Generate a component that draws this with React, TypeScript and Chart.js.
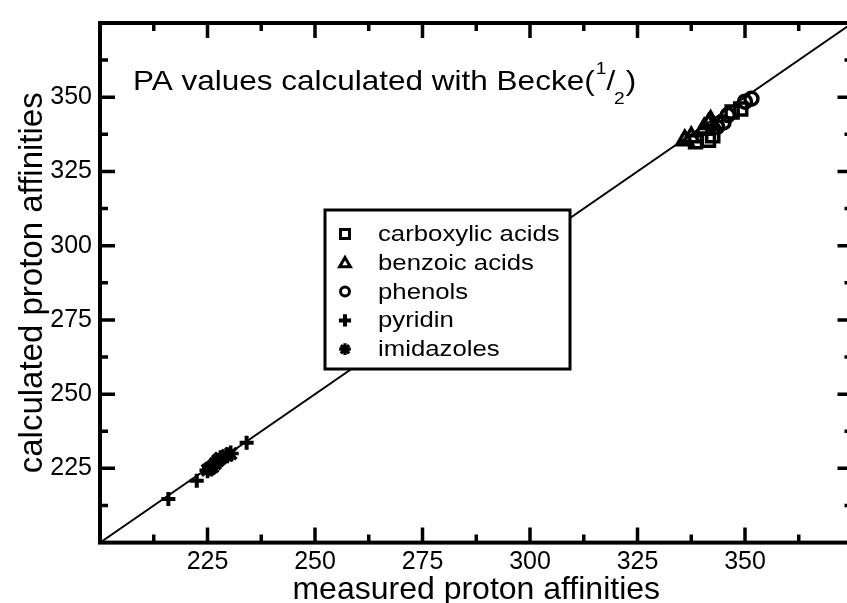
import React, { useEffect, useRef } from 'react';
import { Chart, registerables } from 'chart.js';

Chart.register(...registerables);

const FONT = '"Liberation Sans", Arial, Helvetica, sans-serif';

// axis range and labelled ticks
const axisMin = 200;
const axisMax = 375;
const tickLabels = [225, 250, 275, 300, 325, 350];

// series values (measured, calculated)
const carboxylicX = [338.5, 341.5, 342.5, 347.0, 349.0];
const carboxylicY = [335.0, 335.5, 337.0, 345.0, 346.0];
const benzoicX = [336.0, 337.5, 340.5, 341.5, 342.0];
const benzoicY = [335.5, 336.5, 339.5, 341.0, 342.0];
const phenolsX = [343.5, 345.0, 346.0, 350.0, 351.5];
const phenolsY = [340.0, 341.5, 344.0, 348.5, 349.5];
const pyridinX = [215.9, 222.5, 234.1];
const pyridinY = [214.7, 220.8, 233.6];
const imidazolesX = [225.0, 225.6, 226.2, 226.8, 227.4, 228.0, 229.6, 230.4];
const imidazolesY = [224.4, 225.0, 225.6, 226.6, 227.6, 228.4, 229.4, 230.0];
const diagonalLine = [200, 375];

const seriesNames = ['carboxylic acids', 'benzoic acids', 'phenols', 'pyridin', 'imidazoles'];
const annotationMain = 'PA values calculated with Becke(';
const annotationSup = '1';
const annotationSub = '2';
const xTitle = 'measured proton affinities';
const yTitle = 'calculated proton affinities';

const pts = (xs: number[], ys: number[]) => xs.map((x, i) => ({ x, y: ys[i] }));

function drawMarker(ctx: CanvasRenderingContext2D, kind: string, x: number, y: number, r: number) {
  ctx.beginPath();
  if (kind === 'rect') {
    ctx.lineWidth = 3;
    ctx.rect(x - r, y - r, 2 * r, 2 * r);
    ctx.stroke();
  } else if (kind === 'triangle') {
    ctx.lineWidth = 3;
    ctx.moveTo(x, y - r * 1.2);
    ctx.lineTo(x + r * 1.2, y + r * 0.9);
    ctx.lineTo(x - r * 1.2, y + r * 0.9);
    ctx.closePath();
    ctx.stroke();
  } else if (kind === 'circle') {
    ctx.lineWidth = 3;
    ctx.arc(x, y, r, 0, Math.PI * 2);
    ctx.stroke();
  } else if (kind === 'cross') {
    ctx.lineWidth = 4;
    const a = r * 1.35;
    ctx.moveTo(x - a, y); ctx.lineTo(x + a, y);
    ctx.moveTo(x, y - a); ctx.lineTo(x, y + a);
    ctx.stroke();
  } else {
    ctx.lineWidth = 3.2;
    const a = r * 1.3;
    for (let k = 0; k < 4; k++) {
      const ang = (k * Math.PI) / 4;
      ctx.moveTo(x - a * Math.cos(ang), y - a * Math.sin(ang));
      ctx.lineTo(x + a * Math.cos(ang), y + a * Math.sin(ang));
    }
    ctx.stroke();
  }
}

const framePlugin = {
  id: 'frameTicks',
  afterDraw(chart: any) {
    const { ctx, chartArea } = chart;
    const xs = chart.scales.x;
    const ys = chart.scales.y;
    const { left, right, top, bottom } = chartArea;
    ctx.save();
    ctx.strokeStyle = '#000';
    ctx.fillStyle = '#000';
    // frame
    ctx.lineWidth = 4;
    ctx.strokeRect(left, top, right - left, bottom - top);
    // ticks
    ctx.lineWidth = 3.5;
    ctx.beginPath();
    for (let v = axisMin + 12.5; v < axisMax; v += 12.5) {
      const major = v % 25 === 0;
      const len = major ? 15 : 8;
      const px = xs.getPixelForValue(v);
      ctx.moveTo(px, bottom); ctx.lineTo(px, bottom - len);
      ctx.moveTo(px, top); ctx.lineTo(px, top + len);
      const py = ys.getPixelForValue(v);
      ctx.moveTo(left, py); ctx.lineTo(left + len, py);
      ctx.moveTo(right, py); ctx.lineTo(right - len, py);
    }
    ctx.stroke();

    // annotation text
    const sx = 1.125;
    ctx.save();
    ctx.translate(left + 33, 0);
    ctx.scale(sx, 1);
    ctx.textBaseline = 'alphabetic';
    ctx.textAlign = 'left';
    const base = top + 67;
    let x = 0;
    ctx.font = `28px ${FONT}`;
    ctx.fillText(annotationMain, x, base);
    x += ctx.measureText(annotationMain).width + 1;
    ctx.font = `17px ${FONT}`;
    ctx.fillText(annotationSup, x, base - 16);
    x += ctx.measureText(annotationSup).width;
    ctx.font = `28px ${FONT}`;
    ctx.fillText('/', x, base);
    x += ctx.measureText('/').width - 1;
    ctx.font = `17px ${FONT}`;
    ctx.fillText(annotationSub, x, base + 14);
    x += ctx.measureText(annotationSub).width + 1;
    ctx.font = `28px ${FONT}`;
    ctx.fillText(')', x, base);
    ctx.restore();

    // legend box
    const bx = left + 225;
    const by = top + 187;
    const bw = 245;
    const bh = 159;
    ctx.fillStyle = '#fff';
    ctx.fillRect(bx, by, bw, bh);
    ctx.strokeStyle = '#000';
    ctx.lineWidth = 3;
    ctx.strokeRect(bx, by, bw, bh);
    const kinds = ['rect', 'triangle', 'circle', 'cross', 'star'];
    ctx.fillStyle = '#000';
    for (let i = 0; i < seriesNames.length; i++) {
      const ry = by + 24 + i * 28.8;
      drawMarker(ctx, kinds[i], bx + 20, ry, 4.5);
      ctx.save();
      ctx.translate(bx + 53, ry + 1);
      ctx.scale(1.17, 1);
      ctx.font = `22px ${FONT}`;
      ctx.textBaseline = 'middle';
      ctx.textAlign = 'left';
      ctx.fillText(seriesNames[i], 0, 0);
      ctx.restore();
    }
    ctx.restore();
  },
};

export default function App() {
  const ref = useRef<HTMLCanvasElement>(null);
  useEffect(() => {
    const black = '#000';
    const marker = (label: string, data: any[], style: string, radius: number, bw: number) => ({
      label,
      data,
      showLine: false,
      pointStyle: style,
      pointRadius: radius,
      pointHoverRadius: radius,
      pointBorderWidth: bw,
      borderColor: black,
      backgroundColor: 'rgba(0,0,0,0)',
      pointBackgroundColor: 'rgba(0,0,0,0)',
      pointBorderColor: black,
    });
    const chart = new Chart(ref.current as HTMLCanvasElement, {
      type: 'scatter',
      data: {
        datasets: [
          {
            label: 'y = x',
            data: pts(diagonalLine, diagonalLine),
            showLine: true,
            borderColor: black,
            borderWidth: 2,
            pointRadius: 0,
            pointHoverRadius: 0,
          } as any,
          marker(seriesNames[0], pts(carboxylicX, carboxylicY), 'rect', 8.5, 3.5),
          marker(seriesNames[1], pts(benzoicX, benzoicY), 'triangle', 9, 3.5),
          marker(seriesNames[2], pts(phenolsX, phenolsY), 'circle', 6.5, 3.5),
          marker(seriesNames[3], pts(pyridinX, pyridinY), 'cross', 7, 4),
          marker(seriesNames[4], pts(imidazolesX, imidazolesY), 'star', 8, 3.5),
        ],
      },
      options: {
        responsive: false,
        animation: false,
        devicePixelRatio: 1,
        events: [],
        layout: { padding: { top: 15.5, right: 17.5, bottom: 0, left: 0 } },
        plugins: { legend: { display: false }, tooltip: { enabled: false } },
        scales: {
          x: {
            type: 'linear',
            min: axisMin,
            max: axisMax,
            afterFit: (s: any) => { s.height = 620 - 542.6; },
            grid: { display: false, drawTicks: false },
            border: { display: false },
            ticks: {
              stepSize: 25,
              padding: 5,
              color: black,
              maxRotation: 0,
              autoSkip: false,
              font: { family: FONT, size: 25 },
              callback: (v: any) => (tickLabels.includes(Number(v)) ? String(v) : null),
            },
            title: {
              display: true,
              text: xTitle,
              color: black,
              font: { family: FONT, size: 32, lineHeight: 1 },
              padding: { top: 0, bottom: 14 },
            },
          },
          y: {
            type: 'linear',
            min: axisMin,
            max: axisMax,
            afterFit: (s: any) => { s.width = 100; },
            grid: { display: false, drawTicks: false },
            border: { display: false },
            ticks: {
              stepSize: 25,
              padding: 8,
              color: black,
              autoSkip: false,
              font: { family: FONT, size: 25 },
              callback: (v: any) => (tickLabels.includes(Number(v)) ? String(v) : null),
            },
            title: {
              display: true,
              text: yTitle,
              color: black,
              font: { family: FONT, size: 33, lineHeight: 1 },
              padding: { top: 16.5, bottom: 0 },
            },
          },
        },
      } as any,
      plugins: [framePlugin],
    });
    return () => chart.destroy();
  }, []);
  return (
    <div style={{ position: 'fixed', left: 0, top: 0, width: 847, height: 603, overflow: 'hidden', background: '#fff' }}>
      <canvas ref={ref} width={870} height={620} style={{ display: 'block', width: 870, height: 620 }} />
    </div>
  );
}
